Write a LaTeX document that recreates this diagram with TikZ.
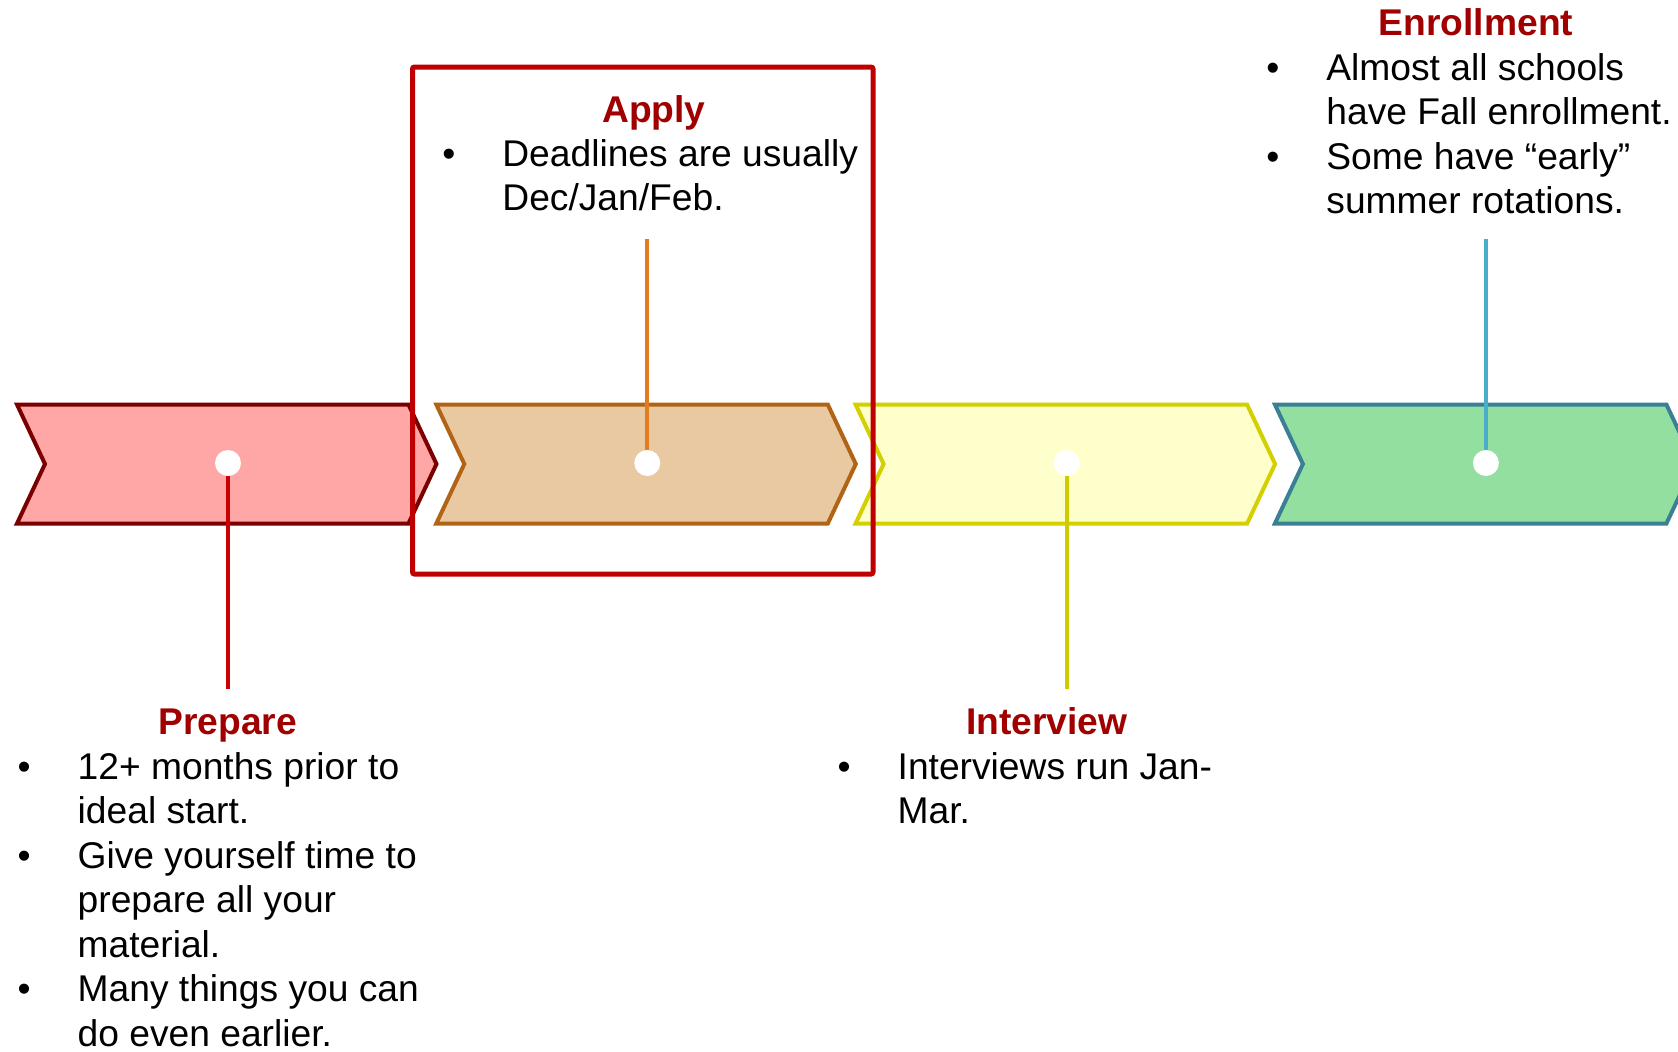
\documentclass[tikz,border=0pt]{standalone}
\usepackage{fontspec}
\setmainfont{Liberation Sans}
\definecolor{titlered}{RGB}{160,0,0}
\definecolor{boxred}{RGB}{192,0,0}
\definecolor{prepFill}{RGB}{255,166,166}
\definecolor{prepLine}{RGB}{122,0,0}
\definecolor{prepStem}{RGB}{204,0,0}
\definecolor{applyFill}{RGB}{232,201,161}
\definecolor{applyLine}{RGB}{178,100,22}
\definecolor{applyStem}{RGB}{225,124,32}
\definecolor{intFill}{RGB}{255,255,204}
\definecolor{intLine}{RGB}{212,207,0}
\definecolor{intStem}{RGB}{204,204,0}
\definecolor{enrFill}{RGB}{146,223,160}
\definecolor{enrLine}{RGB}{59,127,148}
\definecolor{enrStem}{RGB}{75,174,200}
\newcommand{\bitem}{\par\noindent\hangindent=30pt\hangafter=1\makebox[30pt][l]{\textbullet}\ignorespaces}
\tikzset{
chevron/.style = {line width=2pt, line join=miter},
stem/.style = {line width=2pt},
dot/.style = {circle, fill=white, minimum size=13pt, inner sep=0pt},
redbox/.style = {draw=boxred, line width=2.5pt, rounded corners=1pt},
title/.style = {font=\bfseries\fontsize{18.6}{22.25}\selectfont, text=titlered, anchor=base, inner sep=0pt},
notes/.style = {font=\fontsize{18.6}{22.25}\selectfont, anchor=base west, inner sep=0pt}
}

\begin{document}
\begin{tikzpicture}[x=0.5pt, y=-0.5pt]
    \useasboundingbox (0,0) rectangle (1678,1051);
    \clip (0,0) rectangle (1678,1051);
    % The four chevrons of the timeline
    \draw [chevron, draw=prepLine, fill=prepFill] (17,404.5) -- (408.5,404.5) -- (436.5,464) -- (408.5,523.5) -- (17,523.5) -- (45,464) -- cycle;
    \draw [chevron, draw=applyLine, fill=applyFill] (436.3,404.5) -- (827.8,404.5) -- (855.8,464) -- (827.8,523.5) -- (436.3,523.5) -- (464.3,464) -- cycle;
    \draw [chevron, draw=intLine, fill=intFill] (855.6,404.5) -- (1247.1,404.5) -- (1275.1,464) -- (1247.1,523.5) -- (855.6,523.5) -- (883.6,464) -- cycle;
    \draw [chevron, draw=enrLine, fill=enrFill] (1274.9,404.5) -- (1666.4,404.5) -- (1694.4,464) -- (1666.4,523.5) -- (1274.9,523.5) -- (1302.9,464) -- cycle;

    % Highlight round the current step
    \draw [redbox] (412.5,67) rectangle (873,574);

    % Dots and the ends of their stems
    \node [dot] (dotPrep) at (228,463) {};
    \node [dot] (dotApply) at (647.3,463) {};
    \node [dot] (dotInt) at (1066.6,463) {};
    \node [dot] (dotEnr) at (1485.9,463) {};
    \coordinate (stemPrep) at (228,689);
    \coordinate (stemApply) at (647.3,239);
    \coordinate (stemInt) at (1066.6,689);
    \coordinate (stemEnr) at (1485.9,238.5);

    \draw [stem, prepStem] (dotPrep) -- (stemPrep);
    \draw [stem, applyStem] (dotApply) -- (stemApply);
    \draw [stem, intStem] (dotInt) -- (stemInt);
    \draw [stem, enrStem] (dotEnr) -- (stemEnr);

    % Titles and notes
    \node [title] (Prepare) at (227.7,734) {Prepare};
    \node [title] (Apply) at (654,122) {Apply};
    \node [title] (Interview) at (1046.7,734) {Interview};
    \node [title] (Enrollment) at (1476,35) {Enrollment};

    \node [notes] (PrepareText) at (17.3,779.3) {\parbox[t]{260pt}{%
        \bitem 12+ months prior to\\ideal start.
        \bitem Give yourself time to\\prepare all your\\material.
        \bitem Many things you can\\do even earlier.}};
    \node [notes] (ApplyText) at (442,166) {\parbox[t]{260pt}{%
        \bitem Deadlines are usually\\Dec/Jan/Feb.}};
    \node [notes] (InterviewText) at (837.3,779) {\parbox[t]{260pt}{%
        \bitem Interviews run Jan-\\Mar.}};
    \node [notes] (EnrollmentText) at (1266,80) {\parbox[t]{260pt}{%
        \bitem Almost all schools\\have Fall enrollment.
        \bitem Some have “early”\\summer rotations.}};
\end{tikzpicture}
\end{document}
